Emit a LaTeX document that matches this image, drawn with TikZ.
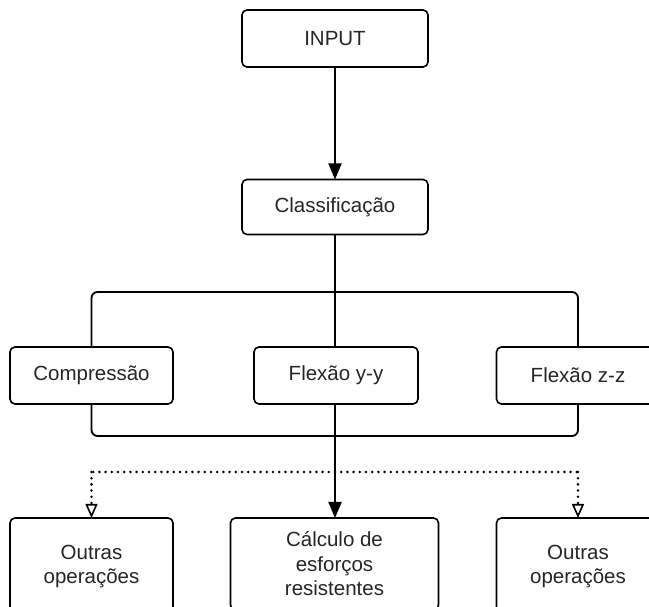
\documentclass[tikz,border=0pt]{standalone}
\usepackage{fontspec}
\setmainfont{Liberation Sans}
\usetikzlibrary{arrows.meta,calc,backgrounds}
\tikzset{
  box/.style={draw=black, line width=1.6pt, rounded corners=5pt, fill=white,
    text=black!85, font=\fontsize{20.5pt}{24.5pt}\selectfont, align=center,
    inner sep=0pt, outer sep=0pt},
  conn/.style={draw=black, line width=2pt},
  bracketline/.style={draw=black, line width=1.8pt, rounded corners=6pt},
  solidarrow/.style={conn, -{Triangle[length=16pt,width=13pt]}},
  dotline/.style={draw=black, line width=2.8pt, line cap=round,
    dash pattern=on 0pt off 6.2pt},
  dotarrow/.style={dotline, -{Triangle[open,length=14pt,width=12pt,line width=1.6pt]}}
}
\begin{document}
\begin{tikzpicture}[x=1pt,y=1pt]
\useasboundingbox (0,0) rectangle (649,607);
\clip (0,0) rectangle (649,607);
% boxes
\node[box, minimum width=186pt, minimum height=57pt] (input) at (335,568.5) {INPUT};
\node[box, minimum width=186pt, minimum height=55pt] (class) at (335,400) {Classificação};
\node[box, minimum width=163pt, minimum height=57pt] (comp) at (91.5,231.5) {Compressão};
\node[box, minimum width=164pt, minimum height=57pt] (fyy) at (336,231.5) {Flexão y-y};
\node[box, minimum width=163pt, minimum height=57pt] (fzz) at (578,231.5) {Flexão z-z};
\node[box, minimum width=163pt, minimum height=97pt] (out1) at (91.5,40.5) {Outras\\operações};
\node[box, minimum width=208pt, minimum height=92pt] (calc) at (334.5,43) {Cálculo de\\esforços\\resistentes};
\node[box, minimum width=163pt, minimum height=97pt] (out2) at (578,40.5) {Outras\\operações};
\begin{scope}[on background layer]
% bracket
\draw[bracketline] (comp.north) -- ++(0,55) -| (fzz.north);
\draw[bracketline] (comp.south) -- ++(0,-32) -| (fzz.south);
% main flow
\draw[conn] (class.south) -- (class.south |- fyy.north);
% dotted branches
\coordinate (dm) at ($(class.south |- fyy.south)+(0,-68)$);
\draw[dotline] (dm) -- (dm -| comp.south);
\draw[dotline] (dm) -- (dm -| fzz.south);
\end{scope}
\draw[solidarrow] (input) -- (class);
\draw[solidarrow] (class.south |- fyy.south) -- (class.south |- calc.north);
\draw[dotarrow] (dm -| comp.south) -- (out1.north);
\draw[dotarrow] (dm -| fzz.south) -- (out2.north);
\end{tikzpicture}
\end{document}
